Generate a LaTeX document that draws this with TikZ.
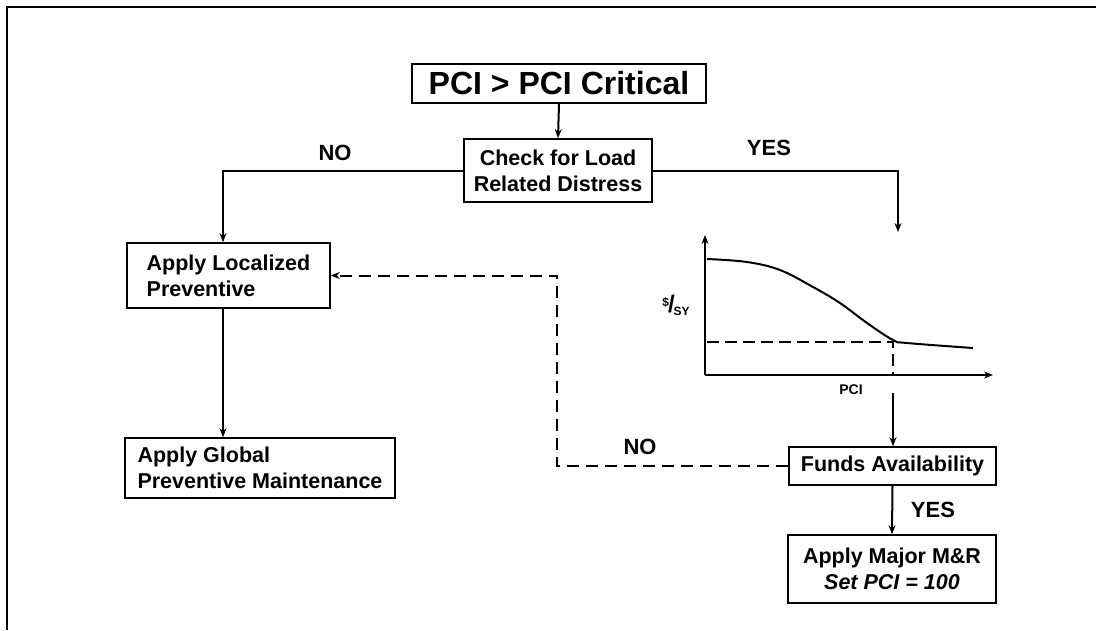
\documentclass[tikz,border=0pt]{standalone}
\usepackage{fontspec}
\setmainfont{Liberation Sans}
\usetikzlibrary{arrows.meta}
\begin{document}
\begin{tikzpicture}[x=1pt,y=-1pt,
  box/.style={draw, line width=1.6pt, inner sep=0pt, font=\fontsize{21.5}{26}\selectfont\bfseries},
  lbox/.style={box, align=left},
  cbox/.style={box, align=center},
  link/.style={line width=2pt, -{Stealth[length=9pt,width=7pt]}},
  dlink/.style={link, dash pattern=on 12pt off 7pt},
  lbl/.style={font=\fontsize{22}{22}\selectfont\bfseries, inner sep=0pt},
  axis/.style={line width=2pt, -{Stealth[length=9pt,width=7pt]}}
]
\fill[white] (0,0) rectangle (1096,630);
\useasboundingbox (0,0) rectangle (1096,630);
% page frame
\draw[line width=2.5pt] (1096,7) -- (7,7) -- (7,630);

% boxes
\node[cbox, minimum width=294pt, minimum height=39pt, font=\fontsize{32}{32}\selectfont\bfseries]
  (pci) at (559,83.5) {PCI > PCI Critical};
\node[cbox, minimum width=188pt, minimum height=63pt] (chk) at (558,170.5)
  {Check for Load\\Related Distress};
\node[lbox, minimum width=203pt, minimum height=65pt] (loc) at (228.5,275.5)
  {Apply Localized\\Preventive};
\node[lbox, minimum width=270pt, minimum height=60pt] (glob) at (260,468)
  {Apply Global\\Preventive Maintenance};
\node[cbox, minimum width=207pt, minimum height=38pt] (fund) at (892.5,466)
  {Funds Availability};
\node[cbox, minimum width=208pt, minimum height=68pt] (maj) at (892,569)
  {Apply Major M\&R\\\textit{Set PCI = 100}};

% helper points
\coordinate (yesend) at (898,232);
\coordinate (dx) at (557,0);
\coordinate (gout) at (893,393);

% connectors
\draw[link] (pci.south) -- (chk.north);
\draw[link] (chk.west) -| ([xshift=-5.5pt]loc.north);
\draw[link] (chk.east) -| (yesend);
\draw[link] ([xshift=-5.5pt]loc.south) -- ([xshift=-5.5pt]loc.south |- glob.north);
\draw[dlink] (fund.west) -- (fund.west -| dx) |- (loc.east);
\draw[link] (gout) -- (gout |- fund.north);
\draw[link] (fund.south) -- (maj.north);

% connector labels
\node[lbl] (no1) at (335,153) {NO};
\node[lbl] (yes1) at (769,148) {YES};
\node[lbl] (no2) at (640,447) {NO};
\node[lbl] (yes2) at (933,510) {YES};

% cost curve
\coordinate (org) at (705,375);
\draw[axis] (org) -- (705,235);
\draw[axis] (org) -- (993,375);
\draw[line width=2pt] plot[smooth, tension=0.6] coordinates
  {(707,259) (747,262) (780,270) (813,287) (840,303) (867,323) (893,340) (907,343) (973,348)};
\draw[line width=2pt, dash pattern=on 12pt off 6pt] (707,342) -- (893,342) -- (893,375);
\node[inner sep=0pt, font=\fontsize{14}{14}\selectfont\bfseries] (xl) at (851,390) {PCI};
\node[inner sep=0pt, font=\bfseries] (yl) at (676,305)
  {\fontsize{24}{24}\selectfont\raisebox{6pt}{\fontsize{12}{12}\selectfont\$}\kern-1pt/\kern-1pt\raisebox{-3pt}{\fontsize{12}{12}\selectfont SY}};
\end{tikzpicture}
\end{document}
